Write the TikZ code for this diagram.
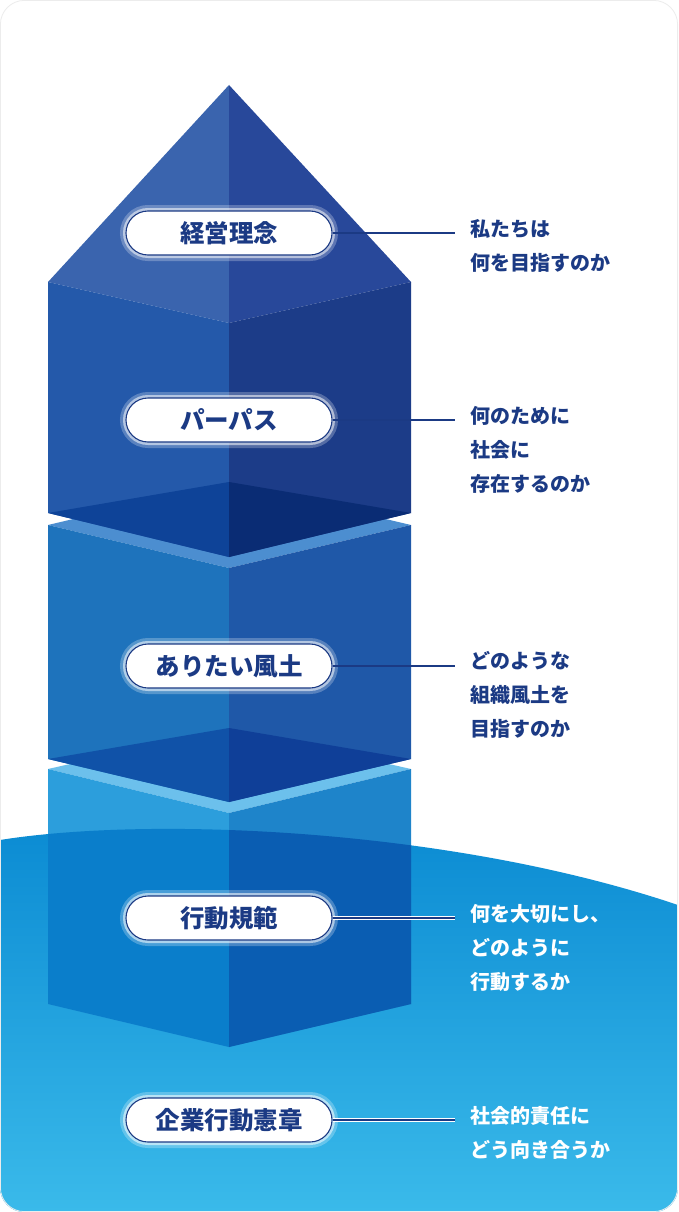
\documentclass[tikz,border=0pt]{standalone}
\usepackage{fontspec}
\setmainfont{Noto Sans CJK JP}
\usetikzlibrary{shapes.misc}
\definecolor{navy}{HTML}{1B3A84}
\definecolor{pyL}{HTML}{3A64AE}\definecolor{pyR}{HTML}{28489A}
\definecolor{b1L}{HTML}{2459AA}\definecolor{b1R}{HTML}{1C3C88}
\definecolor{b1dL}{HTML}{0E4398}\definecolor{b1dR}{HTML}{0A2C74}
\definecolor{b2L}{HTML}{1E73BC}\definecolor{b2R}{HTML}{1F58A8}
\definecolor{b2band}{HTML}{4C8ED0}
\definecolor{b2dL}{HTML}{1052A8}\definecolor{b2dR}{HTML}{0F3F98}
\definecolor{b3L}{HTML}{2C9EDC}\definecolor{b3R}{HTML}{1E84CA}
\definecolor{b3band}{HTML}{6CC0EC}
\definecolor{b3wL}{HTML}{0A7ECB}\definecolor{b3wR}{HTML}{0A5DB2}
\definecolor{seaT}{HTML}{0A8AD2}\definecolor{seaB}{HTML}{3ABAEA}
\tikzset{
 pill/.style={rounded rectangle, draw=navy, line width=1.1pt, fill=white,
   minimum width=206pt, minimum height=44pt, inner sep=0pt, text=navy,
   font=\bfseries\fontsize{24.5}{24.5}\selectfont,
   preaction={draw=white, line width=12pt, opacity=0.25},
   preaction={draw=white, line width=6pt, opacity=0.55}},
 conn/.style={draw=navy, line width=1.1pt},
 connw/.style={draw=navy, line width=1.1pt, preaction={draw=white, line width=3.5pt}},
 desc/.style={anchor=north west, align=left, inner sep=0pt, text=navy,
   font=\bfseries\fontsize{20}{34}\selectfont},
 descw/.style={desc, text=white}
}
\begin{document}
\begin{tikzpicture}[x=1pt,y=-1pt]
\useasboundingbox (0,0) rectangle (678,1212);
\fill[white] (0,0) rectangle (678,1212);
% sea
\begin{scope}
\clip[rounded corners=24pt] (0,0) rectangle (678,1212);
\shade[top color=seaT, bottom color=seaB] (0,840) .. controls (150,816) and (450,828) .. (678,905) -- (678,1212) -- (0,1212) -- cycle;
\end{scope}
\draw[gray!15, line width=0.8pt, rounded corners=24pt] (0.4,0.4) rectangle (677.6,1211.6);
% block 3
\fill[b3band] (48,769) -- (229,728) -- (411,769) -- (229,813) -- cycle;
\fill[b3L] (48,769) -- (229,813) -- (229,1047) -- (48,1004) -- cycle;
\fill[b3R] (229,813) -- (411,769) -- (411,1004) -- (229,1047) -- cycle;
\begin{scope}
\clip (0,840) .. controls (150,816) and (450,828) .. (678,905) -- (678,1212) -- (0,1212) -- cycle;
\fill[b3wL] (48,769) -- (229,813) -- (229,1047) -- (48,1004) -- cycle;
\fill[b3wR] (229,813) -- (411,769) -- (411,1004) -- (229,1047) -- cycle;
\end{scope}
% block 2
\fill[b2band] (48,525) -- (229,482) -- (411,525) -- (229,568) -- cycle;
\fill[b2L] (48,525) -- (229,568) -- (229,802) -- (48,759) -- cycle;
\fill[b2R] (229,568) -- (411,525) -- (411,759) -- (229,802) -- cycle;
\fill[b2dL] (48,759) -- (229,728) -- (229,802) -- cycle;
\fill[b2dR] (229,728) -- (411,759) -- (229,802) -- cycle;
% block 1 + pyramid
\fill[pyL] (48,282) -- (229,85) -- (229,323) -- cycle;
\fill[pyR] (229,85) -- (411,282) -- (229,323) -- cycle;
\fill[b1L] (48,282) -- (229,323) -- (229,557) -- (48,513) -- cycle;
\fill[b1R] (229,323) -- (411,282) -- (411,513) -- (229,557) -- cycle;
\fill[b1dL] (48,513) -- (229,482) -- (229,557) -- cycle;
\fill[b1dR] (229,482) -- (411,513) -- (229,557) -- cycle;
% labels
\node[pill] (l1) at (229,233) {経営理念};
\node[pill] (l2) at (229,420) {パーパス};
\node[pill] (l3) at (229,666) {ありたい風土};
\node[pill] (l4) at (229,918) {行動規範};
\node[pill] (l5) at (229,1120) {企業行動憲章};
\coordinate (e1) at (455,233);
\coordinate (e2) at (455,420);
\coordinate (e3) at (455,666);
\coordinate (e4) at (455,918);
\coordinate (e5) at (455,1120);
\draw[conn] (l1.east) -- (e1);
\draw[conn] (l2.east) -- (e2);
\draw[conn] (l3.east) -- (e3);
\draw[connw] (l4.east) -- (e4);
\draw[connw] (l5.east) -- (e5);
\node[desc] (d1) at (470,219) {私たちは\\何を目指すのか};
\node[desc] (d2) at (470,406) {何のために\\社会に\\存在するのか};
\node[desc] (d3) at (470,651) {どのような\\組織風土を\\目指すのか};
\node[descw] (d4) at (470,904) {何を大切にし、\\どのように\\行動するか};
\node[descw] (d5) at (470,1106) {社会的責任に\\どう向き合うか};
\end{tikzpicture}
\end{document}
